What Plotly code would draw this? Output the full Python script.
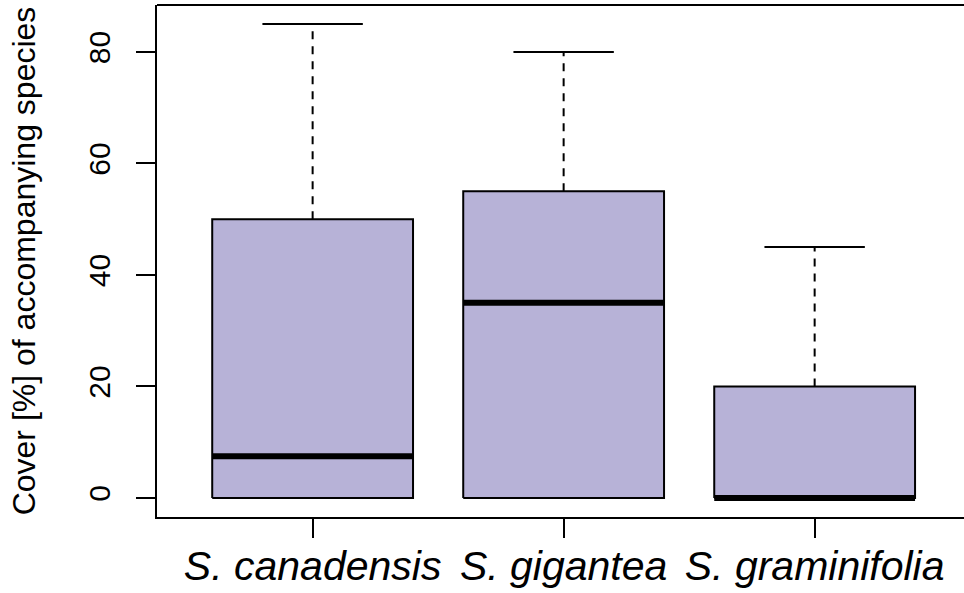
import plotly.graph_objects as go

categories = ["S. canadensis", "S. gigantea", "S. graminifolia"]
positions = [1, 2, 3]
q1 = [0, 0, 0]
median = [7.5, 35, 0]
q3 = [50, 55, 20]
lower_whisker = [0, 0, 0]
upper_whisker = [85, 80, 45]
y_ticks = [0, 20, 40, 60, 80]

box_width = 0.8
cap_width = 0.4
fill_color = "#B7B2D7"
font_family = "Liberation Sans, Arial, sans-serif"

fig = go.Figure()

for i, x in enumerate(positions):
    hw = box_width / 2
    cw = cap_width / 2
    # dashed whiskers
    fig.add_trace(go.Scatter(
        x=[x, x, None, x, x],
        y=[q3[i], upper_whisker[i], None, q1[i], lower_whisker[i]],
        mode="lines", line=dict(color="black", width=2, dash="8px,7px"),
        hoverinfo="skip", showlegend=False))
    # caps
    fig.add_trace(go.Scatter(
        x=[x - cw, x + cw, None, x - cw, x + cw],
        y=[upper_whisker[i], upper_whisker[i], None, lower_whisker[i], lower_whisker[i]],
        mode="lines", line=dict(color="black", width=2),
        hoverinfo="skip", showlegend=False))
    # box
    fig.add_trace(go.Scatter(
        x=[x - hw, x + hw, x + hw, x - hw, x - hw],
        y=[q1[i], q1[i], q3[i], q3[i], q1[i]],
        mode="lines", fill="toself", fillcolor=fill_color,
        line=dict(color="black", width=2),
        hoverinfo="skip", showlegend=False))
    # median
    fig.add_trace(go.Scatter(
        x=[x - hw, x + hw], y=[median[i], median[i]],
        mode="lines", line=dict(color="black", width=6),
        hoverinfo="skip", showlegend=False))

# top border of the plot frame (right side lies beyond the window, as in the reference)
fig.add_shape(type="line", xref="paper", yref="paper", x0=0, x1=1.05, y0=1, y1=1,
              line=dict(color="black", width=2))

fig.update_layout(
    width=964, height=593,
    margin=dict(l=157, r=0, t=5, b=76),
    paper_bgcolor="white", plot_bgcolor="white",
    font=dict(family=font_family, color="black"),
    xaxis=dict(
        range=[0.38, 3.595], tickmode="array", tickvals=positions,
        ticktext=categories, ticks="outside", ticklen=19, tickwidth=2,
        tickcolor="black", showline=True, linecolor="black", linewidth=2,
        mirror=False, showgrid=False, zeroline=False, automargin=False,
        ticklabelstandoff=-7,
        tickfont=dict(size=41, family=font_family, style="italic"),
    ),
    yaxis=dict(
        range=[-3.41, 88.43], tickmode="array", tickvals=y_ticks,
        ticks="outside", ticklen=19, tickwidth=2, tickcolor="black",
        showline=True, linecolor="black", linewidth=2, showgrid=False,
        zeroline=False, tickangle=-90, ticklabelstandoff=14, automargin=False,
        tickfont=dict(size=30, family=font_family),
        title=dict(text="Cover [%] of accompanying species",
                   font=dict(size=32, family=font_family), standoff=38),
    ),
)

fig.write_html("out.html", config={"displayModeBar": False},
               post_script="document.body.style.margin='0';")
